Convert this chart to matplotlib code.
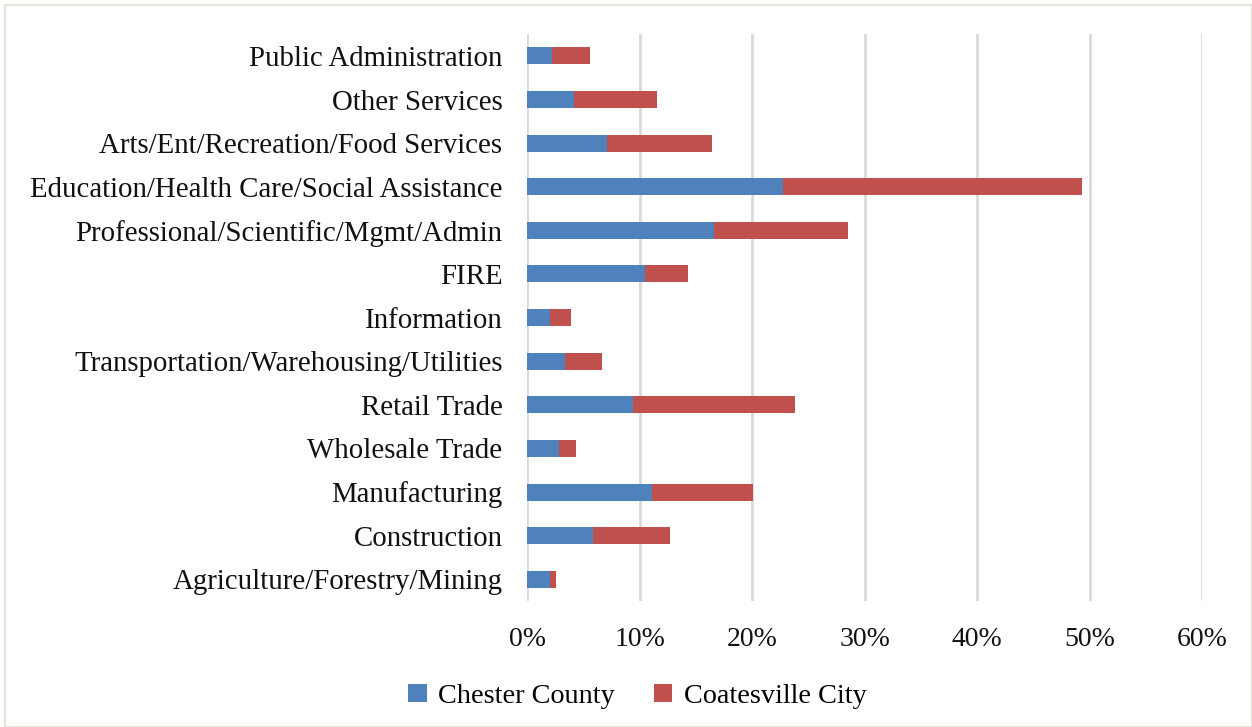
import matplotlib.pyplot as plt
from matplotlib.patches import Rectangle

industries = [
    "Agriculture/Forestry/Mining",
    "Construction",
    "Manufacturing",
    "Wholesale Trade",
    "Retail Trade",
    "Transportation/Warehousing/Utilities",
    "Information",
    "FIRE",
    "Professional/Scientific/Mgmt/Admin",
    "Education/Health Care/Social Assistance",
    "Arts/Ent/Recreation/Food Services",
    "Other Services",
    "Public Administration",
]
chester_county = [2.0, 5.8, 11.1, 2.8, 9.4, 3.3, 2.0, 10.5, 16.6, 22.7, 7.1, 4.1, 2.2]
coatesville_city = [0.5, 6.9, 9.0, 1.5, 14.4, 3.3, 1.9, 3.8, 11.9, 26.6, 9.3, 7.4, 3.4]
xticks = [0, 10, 20, 30, 40, 50, 60]

blue = "#4f81bd"
red = "#c0504d"

plt.rcParams["font.family"] = ["Liberation Serif", "DejaVu Serif"]

fig = plt.figure(figsize=(12.52, 7.27), dpi=100)
ax = fig.add_axes([0.4213, 0.1733, 0.5387, 0.7797])

y = range(len(industries))
ax.barh(y, chester_county, height=0.39, color=blue, label="Chester County", zorder=3)
ax.barh(y, coatesville_city, left=chester_county, height=0.39, color=red,
        label="Coatesville City", zorder=3)

ax.set_xlim(0, 60)
ax.set_ylim(-0.5, len(industries) - 0.5)
ax.set_xticks(xticks)
ax.set_xticklabels([f"{t}%" for t in xticks])
ax.set_yticks(list(y))
ax.set_yticklabels(industries)
ax.tick_params(axis="y", length=0, labelsize=20.8, colors="#111111", pad=18)
ax.tick_params(axis="x", length=0, labelsize=20, colors="#111111", pad=19)

ax.grid(axis="x", color="#d9d9d9", linewidth=2, zorder=0)
for s in ax.spines.values():
    s.set_visible(False)

fig.legend(loc="lower center", bbox_to_anchor=(0.509, -0.01), ncol=2, frameon=False,
           fontsize=20.3, handlelength=0.65, handleheight=0.65, handletextpad=0.4,
           columnspacing=1.4)

# thin frame around the whole figure
fig.patches.append(Rectangle((0.004, 0.0), 0.996, 0.993, transform=fig.transFigure,
                             fill=False, edgecolor="#e6e2dc", linewidth=1.5))

fig.savefig("out.png", dpi=100)
